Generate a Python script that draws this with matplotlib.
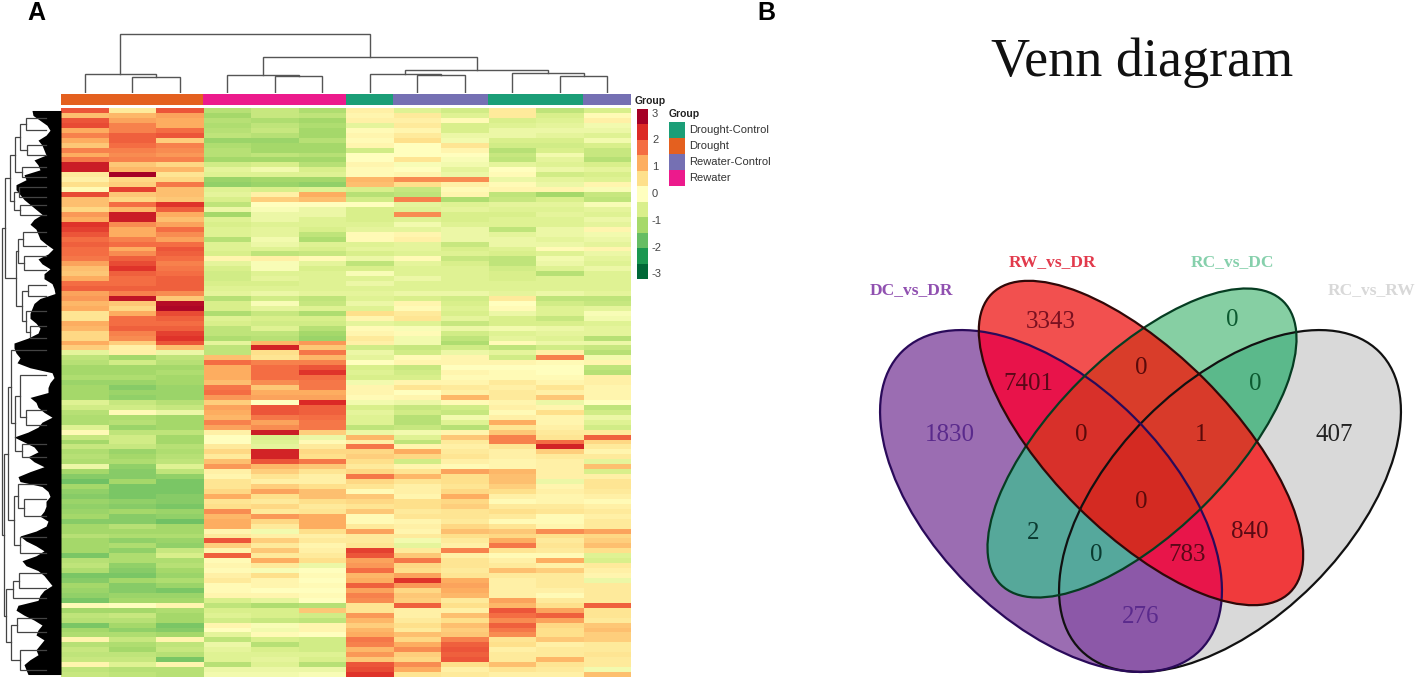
import matplotlib
matplotlib.use("Agg")
import matplotlib.pyplot as plt
import numpy as np
from matplotlib.colors import LinearSegmentedColormap, ListedColormap, to_rgba
from matplotlib.patches import Ellipse

W, H = 1417, 681

# heatmap, rows top to bottom, columns in clustered order
heat = [
    [2.0, 0.4, 2.0, -1.0, -0.8, -1.1, 0.3, -0.5, -0.7, 0.4, -0.9, -0.6],
    [1.0, 1.1, 1.3, -1.2, -0.8, -0.9, 0.2, 0.4, -0.5, 0.4, -0.6, 0.1],
    [2.0, 1.3, 1.2, -1.0, -1.1, -1.2, 0.3, 0.3, 0.1, -0.6, -0.5, 0.3],
    [2.1, 1.6, 1.2, -1.1, -0.9, -1.1, -0.4, 0.4, -0.6, -0.5, -0.4, -0.2],
    [1.2, 1.6, 1.8, -1.0, -0.8, -1.2, 0.1, 0.2, -0.6, -0.3, -0.3, -0.3],
    [1.6, 1.9, 2.0, -0.9, -1.0, -1.2, 0.2, 0.4, -0.3, -0.3, -0.4, -0.5],
    [1.2, 1.9, 0.8, -1.3, -1.3, -1.0, 0.1, 0.6, -0.2, -0.6, -0.6, -0.2],
    [0.9, 1.8, 1.6, -1.1, -1.2, -1.2, 0.2, 0.0, 0.5, -0.7, -0.7, -0.6],
    [1.6, 1.6, 1.5, -1.0, -1.2, -1.2, -0.7, 0.0, 0.2, -1.0, -0.6, -0.8],
    [1.2, 1.5, 1.4, -1.0, -0.9, -1.0, 0.0, 0.0, 0.0, -0.8, -0.2, -0.8],
    [1.7, 1.6, 1.6, -1.2, -1.2, -1.2, 0.0, 0.5, -0.1, -0.9, -0.4, -1.0],
    [2.6, 0.9, 0.7, -0.7, -0.6, -1.0, 0.2, -0.1, -0.2, -0.4, -0.5, -0.6],
    [2.6, 1.1, 1.1, -0.4, -0.2, -0.6, 0.1, 0.0, -0.4, 0.0, -0.3, -0.4],
    [0.4, 3.0, 0.5, -0.5, -0.5, -0.5, 0.1, 0.2, -0.3, 0.1, -0.7, -0.6],
    [0.3, 0.7, 0.7, -1.3, -1.2, -1.2, 1.1, 1.5, 1.5, -0.3, -0.4, -0.5],
    [0.6, 0.8, 1.7, -1.4, -1.3, -1.4, 1.0, 0.6, 0.3, 0.1, -0.3, 0.2],
    [0.1, 2.2, 1.0, -0.5, -0.6, -0.5, -0.6, -0.8, 0.1, 0.2, 0.2, -0.1],
    [2.1, 0.9, 1.0, -0.4, 0.3, 1.2, -1.0, -0.9, 0.2, -0.9, -1.2, -0.8],
    [1.0, 0.7, 0.9, -0.6, 0.8, 1.0, -0.7, 1.6, -1.1, -0.8, -0.6, -0.9],
    [1.0, 1.8, 2.3, -0.9, 0.0, 0.0, 0.0, -0.4, -0.5, -0.4, -0.4, -0.1],
    [0.7, 1.1, 1.9, -0.3, -0.1, -0.3, -0.6, -0.5, -0.4, -0.5, -0.5, -0.4],
    [1.4, 2.6, 1.2, -1.2, -0.3, -0.3, -0.6, 1.5, -0.6, -0.6, -0.4, -0.5],
    [1.2, 2.6, 1.0, -0.5, -0.3, -0.5, -0.6, -0.5, -0.6, -0.5, -0.5, -0.3],
    [2.3, 1.5, 1.3, -0.6, -0.5, -0.5, -0.5, -0.2, -0.5, -0.5, -0.5, -0.4],
    [2.2, 1.2, 1.8, -0.5, -0.4, -0.6, -0.4, -0.4, -0.3, -0.9, -0.3, 0.2],
    [2.0, 1.2, 1.5, -0.5, -0.4, -0.9, 0.1, 0.2, -0.3, -0.4, -0.3, -0.2],
    [1.8, 1.6, 1.3, -1.0, -0.2, -1.1, 0.1, 0.3, -0.3, -0.3, -0.4, -0.3],
    [1.9, 1.8, 1.8, -0.5, -0.3, -0.5, -0.5, -0.4, -0.8, -0.3, -0.3, -0.4],
    [1.8, 1.2, 2.0, -0.5, -0.5, -0.6, -0.4, -0.4, -0.6, -0.5, 0.1, 0.2],
    [1.8, 1.5, 1.9, -0.6, -0.9, -0.8, -0.6, -0.5, -0.5, -0.6, -0.5, -0.3],
    [1.7, 1.9, 1.8, 0.2, 0.3, 0.1, -0.3, 0.1, -0.8, -0.9, -0.2, -0.4],
    [1.3, 2.1, 1.6, -0.4, -0.1, -0.4, -0.9, -0.4, -0.6, -0.9, -0.3, -0.5],
    [1.0, 2.3, 1.7, -0.6, -0.1, -0.6, -0.6, -0.5, -0.5, -0.7, -0.5, -0.3],
    [0.9, 1.9, 1.8, -0.7, -0.5, -0.5, -0.1, -0.5, -0.5, -0.6, -1.0, -0.5],
    [1.2, 1.8, 1.9, -0.7, -0.4, -0.5, -0.5, -0.3, -0.5, -0.6, -0.5, -0.5],
    [1.8, 1.8, 1.9, -0.6, -0.6, -0.5, -0.3, -0.5, -0.5, -0.5, -0.5, -0.5],
    [1.9, 1.9, 1.9, -0.5, -0.5, -0.5, -0.5, -0.5, -0.5, -0.5, -0.5, -0.5],
    [1.3, 1.6, 1.5, -0.4, -0.3, -0.4, -0.4, -0.3, -0.3, -0.4, -0.3, -0.4],
    [1.4, 2.7, 0.9, -1.0, -0.7, -0.9, -0.5, -0.6, -0.7, 0.4, -0.9, -0.9],
    [1.1, 0.9, 2.8, -0.6, -0.1, -0.8, -0.3, 0.2, -0.6, 0.0, -0.7, -0.8],
    [1.2, 0.7, 2.9, -0.6, -0.4, -0.5, -0.5, 0.1, -0.5, 0.1, -0.5, -0.4],
    [0.5, 1.2, 2.1, -1.1, -0.8, -1.1, 0.6, 0.4, -0.6, -0.3, -0.5, -0.1],
    [0.5, 1.8, 1.9, -0.5, -0.6, -0.6, 0.2, 0.5, -0.4, -0.6, -0.8, -0.2],
    [1.2, 1.8, 1.8, -0.6, -0.7, -0.7, -0.4, -0.5, -0.8, -0.6, -0.6, -0.5],
    [1.1, 1.9, 1.9, -0.9, -0.5, -1.0, 0.1, -0.1, -0.3, -0.2, -0.3, -0.4],
    [0.7, 1.6, 2.2, -0.9, -0.9, -1.2, 0.2, 0.1, -0.7, -0.5, -0.4, -0.4],
    [0.7, 1.5, 2.3, -1.1, -1.0, -1.3, 0.4, -0.2, -0.9, -0.4, -0.5, -1.0],
    [1.2, 0.8, 2.0, -0.4, 1.1, 1.4, 0.3, -0.2, -1.1, 0.1, -0.3, -0.3],
    [0.8, 0.3, 1.0, -0.9, 2.5, 0.9, -0.7, -0.8, -0.7, -0.9, -0.7, -0.8],
    [-0.4, 0.3, -0.3, -0.9, 0.6, 1.7, -0.3, -0.7, -0.3, -0.4, 0.3, -1.0],
    [-0.9, -1.2, -0.9, 1.0, 0.5, 1.1, -0.4, 0.1, 0.2, -0.7, 1.6, -0.2],
    [-1.0, -0.7, -1.0, 1.8, 1.6, 1.6, 0.0, 0.2, 0.2, 0.2, 0.1, 0.2],
    [-1.2, -1.2, -1.2, 1.2, 1.8, 2.0, -0.6, -0.8, 0.0, 0.0, 0.0, -0.9],
    [-1.2, -1.2, -1.1, 1.2, 1.8, 2.3, -0.5, -0.7, 0.2, 0.1, 0.0, -1.0],
    [-1.1, -1.1, -1.2, 1.2, 1.8, 1.8, -0.6, -0.6, 0.1, 0.1, 0.1, 0.3],
    [-1.3, -1.3, -1.2, 1.0, 1.5, 1.7, -0.2, 0.2, 0.2, 0.4, 0.2, 0.3],
    [-1.2, -1.5, -1.3, 1.7, 0.9, 1.7, 0.2, 0.5, 0.4, 0.3, 0.5, 0.2],
    [-1.2, -1.3, -1.3, 1.8, 1.2, 1.2, 0.2, 0.0, 0.3, 0.4, 0.3, 0.2],
    [-1.2, -1.4, -1.3, 1.4, 1.3, 1.3, 0.1, 0.2, 1.1, 0.4, 0.9, 0.2],
    [-0.5, -0.8, -1.0, 0.8, 0.0, 2.4, -0.2, -0.3, 0.1, 0.2, -0.3, 0.0],
    [-0.7, -0.7, -0.8, 1.3, 2.0, 1.9, -0.6, -0.8, -0.7, 0.3, 0.2, -0.9],
    [-1.0, 0.1, -0.3, 1.2, 2.0, 1.9, -0.4, -0.7, -0.8, 0.1, 0.6, -0.7],
    [-1.1, -1.1, -1.2, 1.1, 1.7, 1.8, -0.5, -1.0, -0.2, 0.3, 0.2, -0.3],
    [-1.1, -1.0, -1.2, 1.6, 1.3, 1.7, -0.5, -1.0, -0.5, 1.2, 0.2, -0.5],
    [-0.5, -1.3, -1.2, 1.3, 1.5, 1.7, -0.9, -0.8, -1.0, 0.5, 0.3, -0.7],
    [0.1, -0.9, -0.9, 0.3, 2.6, 0.8, -0.3, -0.2, 0.2, 0.9, 0.4, 0.4],
    [-0.8, -0.7, -1.2, 0.0, -0.6, -0.3, 1.1, -0.5, 0.9, 1.6, 0.5, 1.9],
    [-1.2, -0.7, -1.2, 0.0, -0.5, 0.1, 0.3, -0.9, 0.4, 1.6, 1.8, 0.7],
    [-0.8, -0.8, -1.0, 0.4, -0.4, 0.4, 1.7, 0.2, 0.3, 0.5, 2.5, 0.4],
    [-1.1, -1.3, -1.1, 0.7, 2.5, 0.7, 0.7, 1.2, 0.4, 0.3, 0.8, 0.2],
    [-1.0, -1.2, -1.0, 0.4, 2.5, 0.6, 0.8, 0.7, 0.5, 0.3, 0.4, 0.4],
    [-1.1, -1.1, -0.9, 1.0, 2.0, 1.7, 0.6, -0.7, 0.3, 0.2, 0.3, -0.4],
    [-0.3, -1.4, -0.5, 1.4, 1.1, 0.9, 0.4, 0.2, 0.1, 0.2, 0.3, 1.0],
    [-1.2, -1.5, -0.9, 0.3, 0.8, 0.5, 0.7, 0.5, 1.3, 1.1, 0.3, -0.6],
    [-1.5, -1.5, -1.4, 0.2, 0.5, 0.3, 1.7, 1.1, 0.6, 1.0, 0.3, 0.3],
    [-1.7, -1.2, -1.6, 0.5, 0.3, 0.3, 0.7, 0.5, 0.6, 1.0, -0.3, 0.5],
    [-1.2, -1.6, -1.6, 0.5, 0.8, 0.6, 0.5, 0.3, 0.5, 0.8, 0.2, 0.5],
    [-1.4, -1.6, -1.6, 0.7, 1.3, 1.0, 0.1, 0.3, 0.7, 0.6, 0.3, 0.4],
    [-1.5, -1.6, -1.5, 1.2, 0.6, 1.0, 0.9, 0.2, 1.2, 0.3, 0.2, 0.3],
    [-1.3, -1.4, -1.5, 0.5, 0.4, 0.6, 0.7, 0.6, 0.7, 0.1, 0.2, 0.1],
    [-1.4, -1.5, -1.6, 0.6, 0.7, 0.4, 0.5, 0.6, 0.8, 0.4, 0.4, 0.3],
    [-1.3, -1.2, -1.3, 1.5, 0.4, 0.5, 0.9, 0.4, 0.5, 0.6, 0.5, 0.4],
    [-1.2, -1.5, -1.4, 1.1, 1.4, 1.2, 0.1, 0.5, 0.5, 0.4, 0.1, 0.3],
    [-1.5, -1.5, -1.7, 1.2, 0.7, 1.2, 0.1, 0.2, 0.4, 0.1, 0.1, 0.4],
    [-1.2, -1.0, -1.2, 1.2, 0.4, 1.2, 0.4, 0.3, 0.7, 0.5, 0.2, 0.4],
    [-1.2, -1.2, -1.2, 0.2, -0.2, 0.6, 1.3, 0.2, 1.0, 0.9, 1.5, 1.3],
    [-1.0, -1.1, -1.1, 0.4, 0.3, 0.3, 0.4, 0.4, 0.6, 0.7, 0.6, 0.7],
    [-1.2, -1.4, -1.3, 2.0, 0.8, 0.4, 0.4, -0.2, 0.4, 1.2, 0.4, 0.8],
    [-1.2, -1.1, -1.4, 0.8, 0.4, 0.2, 0.5, -0.4, 0.3, 1.7, 0.5, 1.0],
    [-1.2, -1.4, -0.8, 0.2, 0.9, 0.3, 2.2, 0.4, 1.6, 0.5, 0.4, 0.6],
    [-1.6, -1.1, -0.6, 1.9, 0.4, 0.4, 2.0, 0.9, 0.3, 0.1, 0.1, -0.5],
    [-1.0, -1.1, -1.1, 0.1, 1.2, 0.6, 1.3, 1.7, 0.5, 0.3, 1.2, -0.6],
    [-0.9, -1.4, -1.0, 0.2, 0.4, -0.3, 1.4, 0.7, 0.5, 0.4, 0.3, 0.4],
    [-1.1, -1.5, -1.2, 0.1, -0.1, 0.0, 1.8, 0.6, 0.4, 1.0, 0.8, 0.3],
    [-1.6, -1.6, -1.3, 0.3, 0.6, 0.1, 1.1, 1.3, 0.5, 0.4, 0.4, 0.2],
    [-1.5, -1.2, -1.1, 0.4, 0.2, 0.0, 1.2, 2.3, 1.2, 0.3, 0.4, -0.3],
    [-1.2, -1.5, -1.3, 0.1, 0.2, 0.1, 1.9, 1.4, 1.3, 0.3, 0.4, 0.4],
    [-1.3, -1.5, -1.6, 0.1, 0.0, 0.0, 1.3, 0.7, 1.2, 0.3, 0.3, 0.4],
    [-1.4, -1.3, -1.3, 0.2, 0.2, 0.1, 1.6, 0.9, 1.1, 0.3, 0.1, 0.4],
    [-1.6, -1.2, -1.2, -0.6, -0.4, 0.0, 1.5, 0.8, 0.4, 1.3, 0.4, 0.4],
    [0.1, 0.0, 0.2, -0.9, -1.1, -1.0, 0.5, 1.9, 0.6, 1.1, 0.6, 1.9],
    [-1.2, -1.2, -1.1, -0.6, -0.6, 0.9, 0.5, 0.3, 0.3, 2.0, 1.3, 0.5],
    [-0.9, -0.8, -1.2, -0.5, -0.6, -0.7, 1.4, 0.3, 1.0, 1.8, 1.9, 0.5],
    [-1.0, -1.0, -1.2, -0.7, -0.8, -0.9, 1.1, 0.4, 0.6, 1.5, 1.3, 0.4],
    [-1.6, -1.2, -1.6, 0.2, -0.1, 0.2, 0.8, 0.6, 1.0, 1.9, 0.7, 0.9],
    [-1.2, -1.4, -1.5, 0.0, -0.2, 0.2, 1.1, 0.4, 0.8, 1.7, 0.6, 1.0],
    [-1.1, -1.1, -1.2, -0.4, 0.1, 0.0, 1.2, 1.0, 0.9, 1.5, 0.6, 0.8],
    [0.2, -0.8, 0.2, -0.9, -0.6, -0.7, 1.7, 0.7, 1.6, 0.5, 0.9, 0.8],
    [-1.0, -1.1, -0.9, -0.3, -1.0, -0.7, 1.6, 1.2, 1.9, 0.6, 0.3, 0.4],
    [-0.8, -1.2, -0.8, -0.4, -0.6, -0.7, 1.1, 1.5, 2.0, 0.3, 0.4, 0.4],
    [-0.9, -0.9, -1.0, -0.5, -0.5, -0.5, 1.4, 0.8, 1.9, 0.4, 0.4, 0.5],
    [-0.8, -0.8, -1.6, -0.5, -0.4, -0.6, 0.9, 0.7, 2.0, 0.4, 1.1, 0.4],
    [0.2, -0.5, 0.2, -1.0, -0.5, -1.0, 2.0, 1.5, 0.6, 1.0, 0.5, 0.4],
    [-0.9, -1.0, -1.0, -0.3, -0.3, -0.3, 2.1, 1.2, 0.3, 0.5, 0.4, -0.2],
    [-0.8, -0.9, -1.0, -0.2, -0.2, -0.1, 2.3, 0.5, 0.4, 0.3, 0.3, 1.0],
]
heat = np.array(heat)

# which group each column belongs to, index into group_names
col_groups = [1, 1, 1, 3, 3, 3, 0, 2, 2, 0, 0, 2]
group_names = ["Drought-Control", "Drought", "Rewater-Control", "Rewater"]
group_colors = ["#1b9e77", "#e4601f", "#7570b3", "#ec1a8c"]

scale_colors = ["#a50026", "#dc2a26", "#f46d43", "#fdae61", "#fee08b", "#ffffbf",
                "#d9ef8b", "#a6d96a", "#66bd63", "#1a9850", "#006837"]
scale_ticks = [3, 2, 1, 0, -1, -2, -3]

# column tree: (height, left, right), leaves are column numbers
col_tree = (59, (19, 0, (16, 1, 2)),
            (36, (18, 3, (17, 4, 5)),
             (23, (19, 6, (18, 7, 8)), (19.5, 9, (17, 10, 11)))))

# row tree: (depth, upper, lower), leaves are row positions
row_tree = (1.5,
            (5,
             (10,
              (15, (20, (26, 2, 4.4), (27, 7.5, 9.5)), (22, 12, 14)),
              (14, (19, 16, 18), (20, 19.6, 21.6))),
             (16,
              (18, (23, 25, 27.8), (24, 30, 32.7)),
              (22, (28, 35.8, 38), (26, 41, (30, 44, 46.5))))),
            (3.5,
             (8,
              (11, 49, (15, (20, 54, (26, 61, 64)), (22, 68, 70.5))),
              (14, (18, 76, (24, 79, 82.5)), (20, 86.7, 90))),
             (6,
              (13, (19, 94, 97), 99),
              (11, (17, 103, 106), (20, 109.5, 113.5)))))

# where the solid black of the row dendrogram starts, one value per row
black_edge = [32, 33, 40, 47, 50, 46, 38, 42, 44, 46, 34, 38, 40, 24, 26, 16, 16, 20, 24, 30,
              36, 42, 34, 30, 36, 38, 40, 46, 53, 48, 38, 42, 50, 44, 44, 52, 54, 55, 40, 34,
              32, 30, 30, 36, 40, 38, 28, 14, 14, 16, 20, 17, 30, 52, 54, 50, 48, 48, 30, 36,
              38, 44, 52, 42, 38, 28, 14, 24, 34, 38, 28, 34, 44, 30, 18, 20, 42, 48, 50, 46,
              46, 44, 40, 48, 46, 36, 20, 26, 36, 44, 36, 22, 26, 38, 44, 48, 52, 44, 40, 38,
              18, 16, 24, 34, 42, 38, 36, 44, 40, 36, 38, 30, 24, 26, 28]

# venn sets, order gray, purple, green, red
venn_names = ["RC_vs_RW", "DC_vs_DR", "RC_vs_DC", "RW_vs_DR"]
venn_cx = [1230, 1051, 1142, 1141]
venn_cy = [501, 501, 443, 443]
venn_long = [211, 211, 200, 211]
venn_short = [118, 118, 88, 90]
venn_angle = [-45, 45, -45, 45]
venn_edge = ["#111111", "#2a0a5a", "#063d22", "#300808"]
venn_label_color = ["#d8d8d8", "#9050b0", "#86d0ac", "#e23a4c"]
venn_label_x = [1372, 911, 1232, 1053]
venn_label_y = [290, 290, 262, 262]

# colour of every overlap, key is (gray, purple, green, red)
region_colors = {
    (1, 0, 0, 0): "#d9d9d9", (0, 1, 0, 0): "#9b6db2", (0, 0, 1, 0): "#86cfa3", (0, 0, 0, 1): "#f2504f",
    (1, 1, 0, 0): "#8c58a8", (1, 0, 1, 0): "#5bb98b", (1, 0, 0, 1): "#f03a3c", (0, 1, 1, 0): "#56a89a",
    (0, 1, 0, 1): "#e8134a", (0, 0, 1, 1): "#d93d2a", (1, 1, 1, 0): "#55a89c", (1, 1, 0, 1): "#e8154a",
    (1, 0, 1, 1): "#d83a2a", (0, 1, 1, 1): "#d8302a", (1, 1, 1, 1): "#d42a22",
}

counts = ["1830", "3343", "0", "7401", "0", "0", "0", "1", "407",
          "2", "0", "0", "783", "840", "276"]
count_x = [950, 1051, 1232, 1028, 1141, 1255, 1081, 1201, 1334,
           1033, 1096, 1141, 1187, 1250, 1141]
count_y = [435, 322, 320, 384, 368, 384, 435, 435, 435,
           533, 555, 502, 555, 532, 617]
count_color = ["#5a2a8c", "#7a1020", "#0c5a30", "#5a0818", "#5a0a0a", "#0c5a30", "#5a0a0a", "#5a0a0a", "#222222",
               "#0a3a30", "#0a3a30", "#5a0a0a", "#5a0818", "#5a0a14", "#5a2a8c"]


def px_axes(x0, y0, x1, y1):
    # axes from pixel box, y counted from the top
    ax = fig.add_axes([x0 / W, 1 - y1 / H, (x1 - x0) / W, (y1 - y0) / H])
    ax.axis("off")
    return ax


def draw_col(ax, node):
    if not isinstance(node, tuple):
        return node + 0.5, 0
    h, a, b = node
    xa, ha = draw_col(ax, a)
    xb, hb = draw_col(ax, b)
    ax.plot([xa, xa, xb, xb], [ha, h, h, hb], color="#555555", lw=1.0, solid_joinstyle="miter")
    return (xa + xb) / 2, h


def draw_row(ax, node):
    if not isinstance(node, tuple):
        return node, 46
    d, a, b = node
    ya, da = draw_row(ax, a)
    yb, db = draw_row(ax, b)
    ax.plot([da, d, d, db], [ya, ya, yb, yb], color="#444444", lw=0.9, solid_joinstyle="miter")
    return (ya + yb) / 2, d


def inside(x, y, i):
    # True for points in venn set i
    t = np.deg2rad(venn_angle[i])
    dx, dy = x - venn_cx[i], y - venn_cy[i]
    u = dx * np.cos(t) + dy * np.sin(t)
    v = -dx * np.sin(t) + dy * np.cos(t)
    return (u / venn_long[i]) ** 2 + (v / venn_short[i]) ** 2 <= 1


plt.rcParams["font.family"] = ["Liberation Sans", "DejaVu Sans"]
fig = plt.figure(figsize=(W / 100, H / 100), dpi=100)

cmap = LinearSegmentedColormap.from_list("rdylgn", scale_colors[::-1], N=256)

# heatmap
ax = px_axes(61, 108, 631, 677)
ax.pcolormesh(heat[::-1], cmap=cmap, vmin=-3, vmax=3)

# group strip on top
ax = px_axes(61, 94, 631, 105)
ax.imshow([col_groups], aspect="auto", cmap=ListedColormap(group_colors), vmin=0, vmax=3,
          interpolation="nearest")

# dendrograms
ax = px_axes(61, 30, 631, 93)
draw_col(ax, col_tree)
ax.set_xlim(0, 12)
ax.set_ylim(0, 63)

ax = px_axes(0, 108, 61, 677)
rows = np.arange(len(black_edge)) + 0.5
ax.fill_betweenx(rows, black_edge, 61, color="black", lw=0)
draw_row(ax, row_tree)
ax.set_xlim(0, 61)
ax.set_ylim(len(black_edge), 0)

# colour key
ax = px_axes(637, 109, 648, 279)
ax.imshow(np.arange(11)[:, None], aspect="auto", cmap=ListedColormap(scale_colors), interpolation="nearest")
for v in scale_ticks:
    fig.text(652 / W, 1 - (194 - v * 26.8) / H, str(v), fontsize=8, color="#444444", va="center")

fig.text(635 / W, 1 - 100.5 / H, "Group", fontsize=7.5, fontweight="bold", color="#222222", va="center")
fig.text(669 / W, 1 - 114 / H, "Group", fontsize=7.5, fontweight="bold", color="#222222", va="center")
ax = px_axes(669, 122, 685, 186)
ax.imshow(np.arange(4)[:, None], aspect="auto", cmap=ListedColormap(group_colors), interpolation="nearest")
for i, name in enumerate(group_names):
    fig.text(689 / W, 1 - (130 + 16 * i) / H, name, fontsize=8, color="#333333", va="center")

fig.text(27 / W, 1 - 13 / H, "A", fontsize=18, fontweight="bold", ha="left", va="center")
fig.text(757 / W, 1 - 13 / H, "B", fontsize=18, fontweight="bold", ha="left", va="center")

# venn part, axes in pixels of the figure
ax = px_axes(0, 0, W, H)
ax.set_xlim(0, W)
ax.set_ylim(H, 0)
ax.patch.set_alpha(0)
px, py = np.meshgrid(np.arange(W) + 0.5, np.arange(H) + 0.5)
masks = [inside(px, py, i) for i in range(4)]
fills = np.zeros((H, W, 4))
for key, color in region_colors.items():
    hit = np.all([masks[i] == bool(key[i]) for i in range(4)], axis=0)
    fills[hit] = to_rgba(color)
ax.imshow(fills, extent=(0, W, H, 0), aspect="auto", interpolation="nearest")
for i in range(4):
    ax.add_patch(Ellipse((venn_cx[i], venn_cy[i]), 2 * venn_long[i], 2 * venn_short[i],
                         angle=venn_angle[i], fill=False, edgecolor=venn_edge[i], lw=1.6))
    ax.text(venn_label_x[i], venn_label_y[i], venn_names[i], color=venn_label_color[i], fontsize=12.5,
            family="Liberation Serif", fontweight="bold", ha="center", va="center", clip_on=True)
for t, x, y, c in zip(counts, count_x, count_y, count_color):
    ax.text(x, y, t, color=c, fontsize=18, family="Liberation Serif", ha="center", va="center")
ax.text(1142, 63, "Venn diagram", fontsize=39, family="Liberation Serif", color="#111111", ha="center", va="center")

fig.savefig("out.png", dpi=100)
